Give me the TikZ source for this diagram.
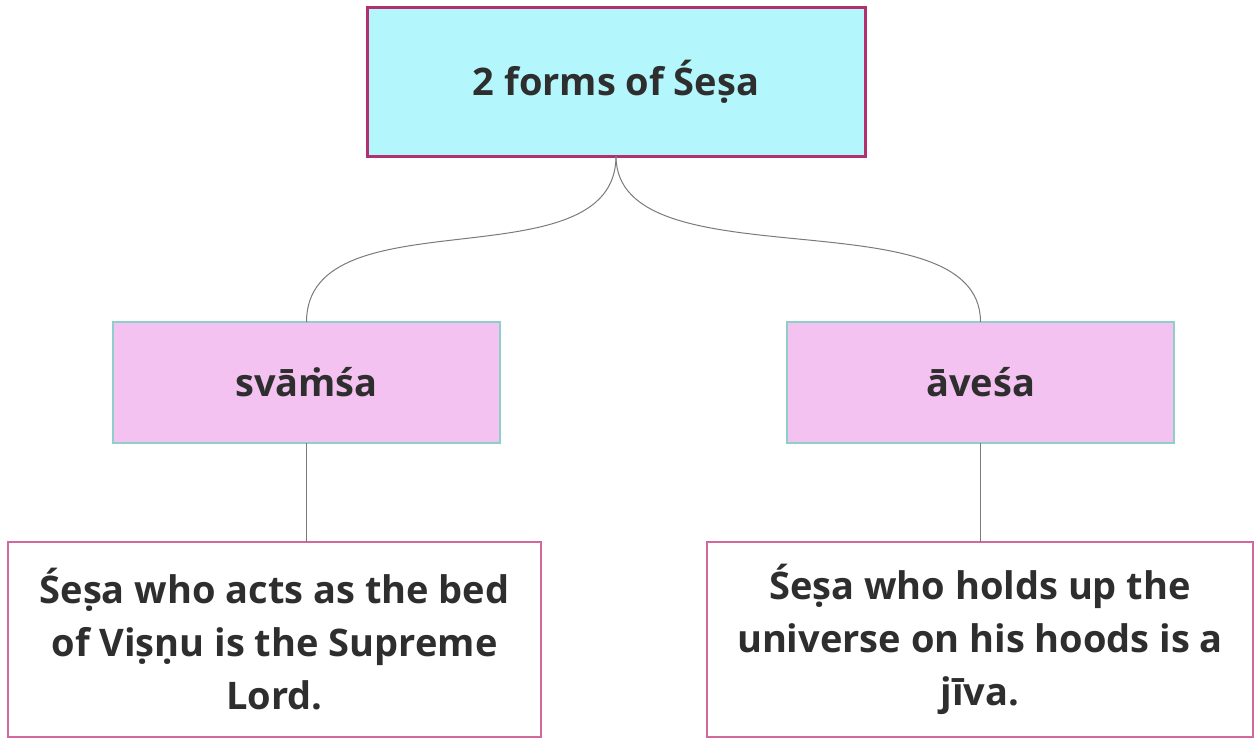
\documentclass[tikz,border=0pt]{standalone}
\usepackage{fontspec}
\setmainfont{Open Sans}
\newcommand{\mdot}{\ooalign{m\cr\hidewidth˙\hidewidth\cr}}
\newcommand{\sdb}{s\char"0323\relax}
\newcommand{\ndb}{n\char"0323\relax}
\definecolor{topfill}{HTML}{B3F6FC}
\definecolor{topline}{HTML}{B3306E}
\definecolor{midfill}{HTML}{F4C2F1}
\definecolor{midline}{HTML}{8FCFCA}
\definecolor{botline}{HTML}{D2689C}
\definecolor{txt}{HTML}{2E2E2E}
\definecolor{conn}{HTML}{7A7A7A}
\begin{document}
\begin{tikzpicture}[x=1pt,y=-1pt,
  box/.style={rectangle, inner sep=0pt, outer sep=0pt, align=center, text=txt,
    font=\fontsize{38}{53}\selectfont\bfseries},
  topbox/.style={box, fill=topfill, draw=topline, line width=3pt,
    minimum width=498pt, minimum height=149pt},
  midbox/.style={box, fill=midfill, draw=midline, line width=2pt,
    minimum width=387pt, minimum height=121pt},
  botbox/.style={box, fill=white, draw=botline, line width=1.8pt,
    minimum height=195pt},
  link/.style={draw=conn, line width=1pt}]
\useasboundingbox (0,0) rectangle (1257,739);
\node[topbox] (top) at (616,81.5) {2 forms of Śe\sdb a};
\node[midbox] (sva) at (306.5,382.5) {svā\mdot śa};
\node[midbox] (ave) at (980.5,382.5) {āveśa};
\node[botbox, minimum width=533pt] (bl) at (274.5,639.5) {Śe\sdb a who acts as the bed\\of Vi\sdb\ndb u is the Supreme\\Lord.};
\node[botbox, minimum width=546pt] (br) at (980,639.5) {Śe\sdb a who holds up the\\universe on his hoods is a\\jīva.};
\draw[link] (top.south) .. controls +(0,130) and +(0,-130) .. (sva.north);
\draw[link] (top.south) .. controls +(0,130) and +(0,-130) .. (ave.north);
\draw[link] (sva.south) -- (sva.south |- bl.north);
\draw[link] (ave.south) -- (ave.south |- br.north);
\end{tikzpicture}
\end{document}
